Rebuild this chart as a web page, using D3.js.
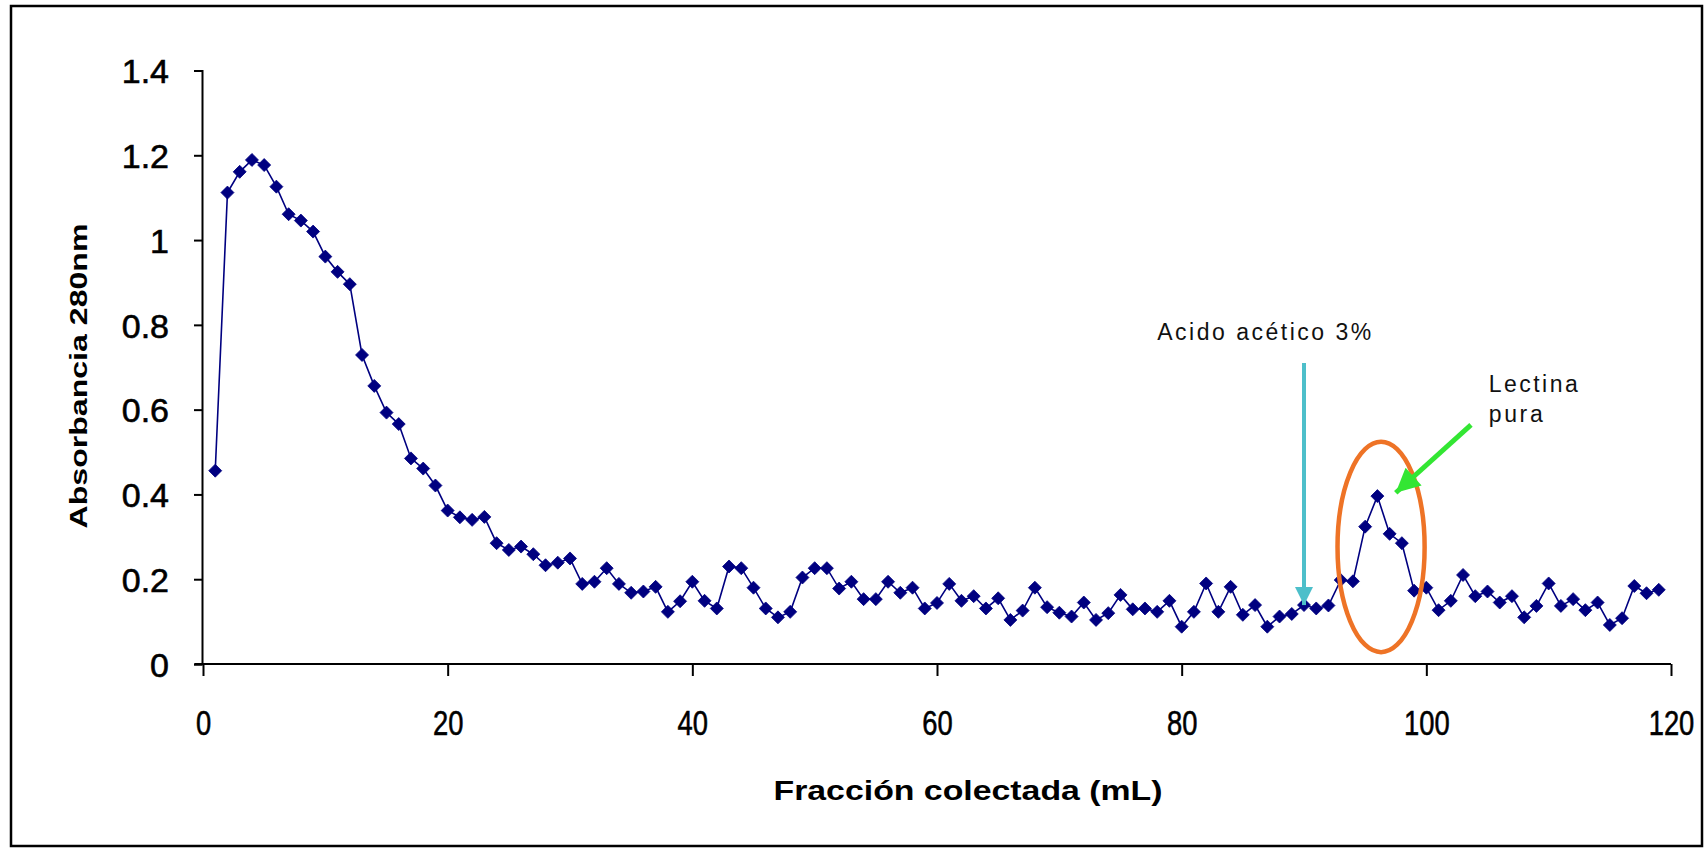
<!DOCTYPE html>
<html>
<head>
<meta charset="utf-8">
<script src="https://cdn.jsdelivr.net/npm/d3@7/dist/d3.min.js"></script>
<style>
  html, body { margin: 0; padding: 0; background: #ffffff; }
  svg { display: block; }
  text { font-family: "Liberation Sans", Arial, sans-serif; }
</style>
</head>
<body>
<svg id="chart" width="1708" height="851"></svg>
<script>
// Fraction number (mL collected)
const fractions = [
  1, 2, 3, 4, 5, 6, 7, 8, 9, 10, 11, 12, 13, 14, 15, 16, 17, 18, 19, 20,
  21, 22, 23, 24, 25, 26, 27, 28, 29, 30, 31, 32, 33, 34, 35, 36, 37, 38, 39, 40,
  41, 42, 43, 44, 45, 46, 47, 48, 49, 50, 51, 52, 53, 54, 55, 56, 57, 58, 59, 60,
  61, 62, 63, 64, 65, 66, 67, 68, 69, 70, 71, 72, 73, 74, 75, 76, 77, 78, 79, 80,
  81, 82, 83, 84, 85, 86, 87, 88, 89, 90, 91, 92, 93, 94, 95, 96, 97, 98, 99, 100,
  101, 102, 103, 104, 105, 106, 107, 108, 109, 110, 111, 112, 113, 114, 115, 116, 117, 118, 119
];

// Absorbance at 280 nm for each fraction
const absorbance = [
  0.456, 1.112, 1.161, 1.189, 1.177, 1.126, 1.061, 1.046, 1.020, 0.961,
  0.925, 0.896, 0.729, 0.656, 0.593, 0.566, 0.485, 0.461, 0.421, 0.362,
  0.346, 0.340, 0.347, 0.285, 0.269, 0.277, 0.259, 0.233, 0.239, 0.249,
  0.189, 0.194, 0.226, 0.189, 0.168, 0.171, 0.182, 0.123, 0.148, 0.194,
  0.149, 0.131, 0.230, 0.226, 0.180, 0.131, 0.110, 0.123, 0.204, 0.226,
  0.226, 0.178, 0.194, 0.153, 0.153, 0.194, 0.168, 0.180, 0.131, 0.144,
  0.189, 0.149, 0.160, 0.131, 0.155, 0.104, 0.126, 0.180, 0.134, 0.121,
  0.112, 0.145, 0.104, 0.120, 0.163, 0.129, 0.131, 0.123, 0.149, 0.088,
  0.123, 0.190, 0.123, 0.182, 0.116, 0.139, 0.088, 0.112, 0.118, 0.139,
  0.131, 0.138, 0.198, 0.195, 0.324, 0.396, 0.307, 0.285, 0.173, 0.180,
  0.127, 0.149, 0.210, 0.160, 0.171, 0.145, 0.160, 0.110, 0.137, 0.190,
  0.137, 0.153, 0.127, 0.145, 0.092, 0.108, 0.184, 0.167, 0.175
];

const xTicks = [0, 20, 40, 60, 80, 100, 120];
const yTicks = [0, 0.2, 0.4, 0.6, 0.8, 1, 1.2, 1.4];

const xTitle = "Fracción colectada (mL)";
const yTitle = "Absorbancia 280nm";
const elutionLabel = "Acido acético 3%";
const peakLabel = ["Lectina", "pura"];

// Annotation anchors, in data units (fraction, absorbance)
const elutionArrow = { x: 90, from: 0.71, to: 0.139 };
const elutionText = { x: 78.0, y: 0.764 };
const peakEllipse = { cx: 96.3, cy: 0.276, rx: 3.56, ry: 0.248 };
const peakArrow = { x1: 103.65, y1: 0.564, x2: 97.5, y2: 0.404 };
const peakText = { x: 105.1, y1: 0.642, y2: 0.571 };

const svg = d3.select("#chart");

const x = d3.scaleLinear().domain([0, 120]).range([203, 1671]);
const y = d3.scaleLinear().domain([0, 1.4]).range([664, 70.5]);

// outer chart frame
svg.append("rect")
  .attr("x", 11).attr("y", 6)
  .attr("width", 1691).attr("height", 840)
  .attr("fill", "#ffffff")
  .attr("stroke", "#000").attr("stroke-width", 2.5);

// y axis
const yAxis = svg.append("g")
  .attr("transform", `translate(${x(0) - 1},0)`)
  .call(d3.axisLeft(y).tickValues(yTicks).tickSize(8).tickPadding(25)
    .tickFormat(d => d3.format("~g")(d)));
yAxis.select(".domain").attr("stroke", "#000").attr("stroke-width", 2);
yAxis.selectAll(".tick line").attr("stroke", "#000").attr("stroke-width", 2);
yAxis.selectAll(".tick text")
  .attr("font-size", 34)
  .attr("fill", "#000")
  .attr("stroke", "#000").attr("stroke-width", 0.6)
  .attr("dy", "0.36em");

// x axis
const xAxis = svg.append("g")
  .attr("transform", `translate(0,${y(0)})`)
  .call(d3.axisBottom(x).tickValues(xTicks).tickSize(12).tickPadding(0)
    .tickFormat(d3.format("d")));
xAxis.select(".domain")
  .attr("d", `M${x(0) - 8},0H${x(120)}`)
  .attr("stroke", "#000").attr("stroke-width", 2);
xAxis.selectAll(".tick line").attr("stroke", "#000").attr("stroke-width", 2);
xAxis.selectAll(".tick text")
  .attr("font-size", 36)
  .attr("fill", "#000")
  .attr("stroke", "#000").attr("stroke-width", 0.6)
  .attr("dy", 0)
  .attr("y", 71)
  .attr("transform", "scale(0.76,1)")
  .attr("x", 0);

// axis titles
svg.append("text")
  .attr("x", 968).attr("y", 800)
  .attr("text-anchor", "middle")
  .attr("font-size", 28).attr("font-weight", "bold")
  .attr("textLength", 389).attr("lengthAdjust", "spacingAndGlyphs")
  .attr("fill", "#000")
  .text(xTitle);

svg.append("text")
  .attr("transform", "translate(87,376) rotate(-90)")
  .attr("text-anchor", "middle")
  .attr("font-size", 24).attr("font-weight", "bold")
  .attr("textLength", 305).attr("lengthAdjust", "spacingAndGlyphs")
  .attr("fill", "#000")
  .text(yTitle);

// series line
const pts = fractions.map((f, i) => [f, absorbance[i]]);
svg.append("path")
  .datum(pts)
  .attr("fill", "none")
  .attr("stroke", "#000080")
  .attr("stroke-width", 1.6)
  .attr("d", d3.line().x(d => x(d[0])).y(d => y(d[1])));

// diamond markers
svg.append("g")
  .selectAll("path")
  .data(pts)
  .join("path")
  .attr("transform", d => `translate(${x(d[0])},${y(d[1])})`)
  .attr("d", "M0,-6.5L6.5,0L0,6.5L-6.5,0Z")
  .attr("fill", "#000080")
  .attr("stroke", "#000080")
  .attr("stroke-width", 0.8);

// elution arrow (acetic acid)
const defs = svg.append("defs");
defs.append("marker")
  .attr("id", "cyanHead")
  .attr("viewBox", "0 0 10 10")
  .attr("refX", 10).attr("refY", 5)
  .attr("markerUnits", "userSpaceOnUse")
  .attr("markerWidth", 18).attr("markerHeight", 18)
  .attr("orient", "auto")
  .append("path").attr("d", "M0,0L10,5L0,10Z").attr("fill", "#4dbfca");
defs.append("marker")
  .attr("id", "greenHead")
  .attr("viewBox", "0 0 10 10")
  .attr("refX", 10).attr("refY", 5)
  .attr("markerUnits", "userSpaceOnUse")
  .attr("markerWidth", 26).attr("markerHeight", 24)
  .attr("orient", "auto")
  .append("path").attr("d", "M0,0L10,5L0,10Z").attr("fill", "#33e633");

svg.append("line")
  .attr("x1", x(elutionArrow.x)).attr("x2", x(elutionArrow.x))
  .attr("y1", y(elutionArrow.from)).attr("y2", y(elutionArrow.to))
  .attr("stroke", "#4dbfca").attr("stroke-width", 4)
  .attr("marker-end", "url(#cyanHead)");

svg.append("text")
  .attr("x", x(elutionText.x)).attr("y", y(elutionText.y))
  .attr("font-size", 23)
  .attr("textLength", 214).attr("lengthAdjust", "spacing")
  .attr("fill", "#111")
  .text(elutionLabel);

// peak highlight ellipse
svg.append("ellipse")
  .attr("cx", x(peakEllipse.cx)).attr("cy", y(peakEllipse.cy))
  .attr("rx", x(peakEllipse.rx) - x(0))
  .attr("ry", y(0) - y(peakEllipse.ry))
  .attr("fill", "none")
  .attr("stroke", "#ee7326").attr("stroke-width", 4.5);

svg.append("line")
  .attr("x1", x(peakArrow.x1)).attr("y1", y(peakArrow.y1))
  .attr("x2", x(peakArrow.x2)).attr("y2", y(peakArrow.y2))
  .attr("stroke", "#33e633").attr("stroke-width", 5)
  .attr("marker-end", "url(#greenHead)");

svg.append("text")
  .attr("x", x(peakText.x)).attr("y", y(peakText.y1))
  .attr("font-size", 23)
  .attr("textLength", 89).attr("lengthAdjust", "spacing")
  .attr("fill", "#111")
  .text(peakLabel[0]);
svg.append("text")
  .attr("x", x(peakText.x)).attr("y", y(peakText.y2))
  .attr("font-size", 23)
  .attr("textLength", 54).attr("lengthAdjust", "spacing")
  .attr("fill", "#111")
  .text(peakLabel[1]);
</script>
</body>
</html>
